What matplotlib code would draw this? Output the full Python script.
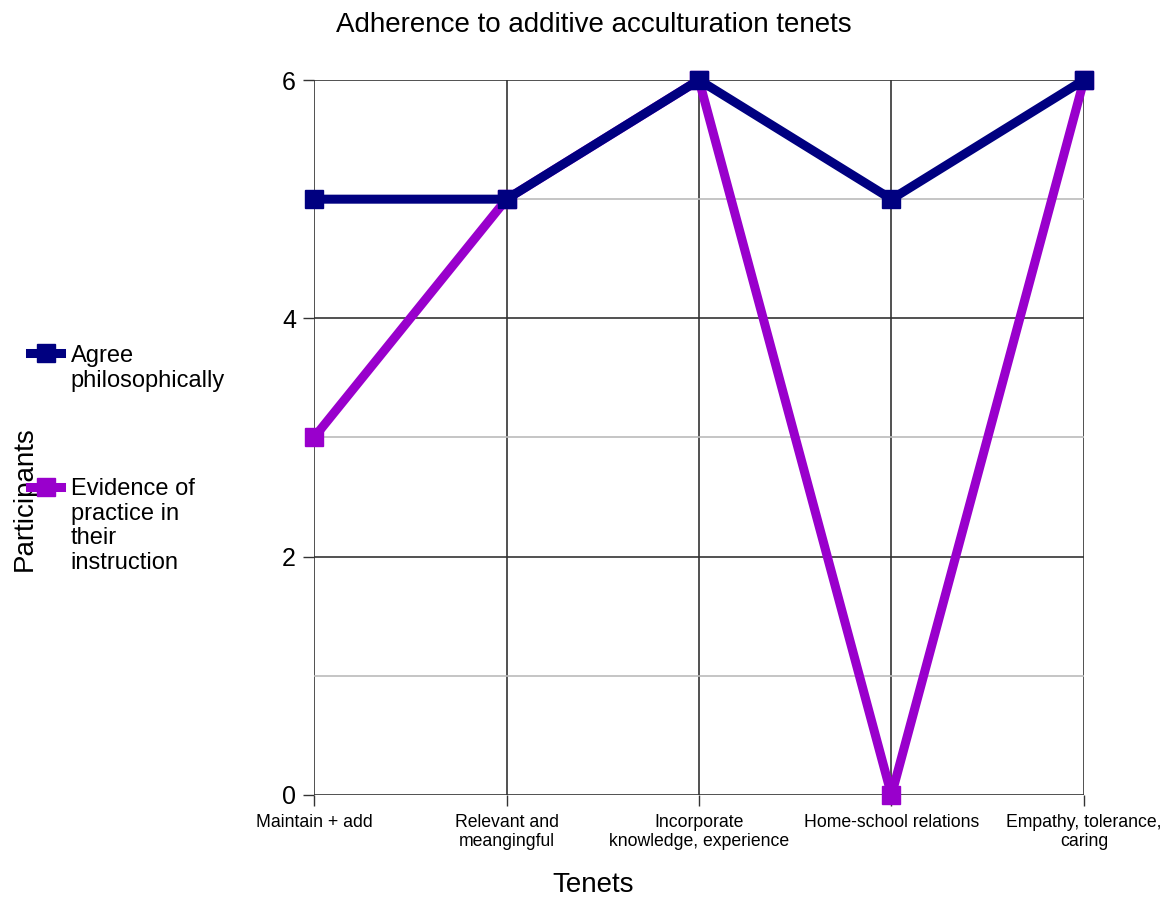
import matplotlib.pyplot as plt
from matplotlib.ticker import MultipleLocator

plt.rcParams['font.family'] = ['Liberation Sans', 'DejaVu Sans']

# data
tenets = ["Maintain + add", "Relevant and\nmeangingful", "Incorporate\nknowledge, experience",
          "Home-school relations", "Empathy, tolerance,\ncaring"]
agree = [5, 5, 6, 5, 6]
evidence = [3, 5, 6, 0, 6]
labels = ["Agree\nphilosophically", "Evidence of\npractice in\ntheir\ninstruction"]

navy = "#000080"
purple = "#9900cc"

fig = plt.figure(figsize=(11.73, 8.99), dpi=100)
ax = fig.add_axes([0.2677, 0.1157, 0.6564, 0.7953])

x = range(len(tenets))
l2, = ax.plot(x, evidence, color=purple, lw=6.5, marker="s", ms=13, zorder=3, clip_on=False)
l1, = ax.plot(x, agree, color=navy, lw=6.5, marker="s", ms=13, zorder=4, clip_on=False)

ax.set_xlim(0, len(tenets) - 1)
ax.set_ylim(0, 6)
ax.set_xticks(list(x))
ax.set_xticklabels(tenets, fontsize=12.7, linespacing=1.1)
ax.yaxis.set_major_locator(MultipleLocator(2))
ax.yaxis.set_minor_locator(MultipleLocator(1))
ax.tick_params(axis="y", which="major", labelsize=18, length=8, width=1, color="#333333", pad=5)
ax.tick_params(axis="y", which="minor", length=0)
ax.tick_params(axis="x", length=8, width=1, color="#333333", pad=6)
for s in ax.spines.values():
    s.set_visible(False)
ax.grid(True, which="major", color="#333333", lw=1.2, zorder=0)
ax.grid(True, which="minor", axis="y", color="#bbbbbb", lw=1.2, zorder=0)
ax.set_axisbelow(True)

fig.text(0.506, 0.972, "Adherence to additive acculturation tenets", ha="center", va="center", fontsize=20)
fig.text(0.506, 0.016, "Tenets", ha="center", va="center", fontsize=20)
fig.text(0.021, 0.445, "Participants", rotation=90, ha="center", va="center", fontsize=20)

leg_kw = dict(loc="upper left", frameon=False, fontsize=17, handlelength=1.3,
              handletextpad=0.4, borderpad=0, borderaxespad=0)
leg1 = fig.legend([l1], [labels[0]], bbox_to_anchor=(0.026, 0.616), **leg_kw)
leg2 = fig.legend([l2], [labels[1]], bbox_to_anchor=(0.026, 0.468), **leg_kw)
for leg in (leg1, leg2):
    for t in leg.get_texts():
        t.set_linespacing(1.15)
    # put the handle next to the first text line
    for col in leg._legend_handle_box.get_children():
        for row in col.get_children():
            row.align = "top"

fig.savefig("out.png")
